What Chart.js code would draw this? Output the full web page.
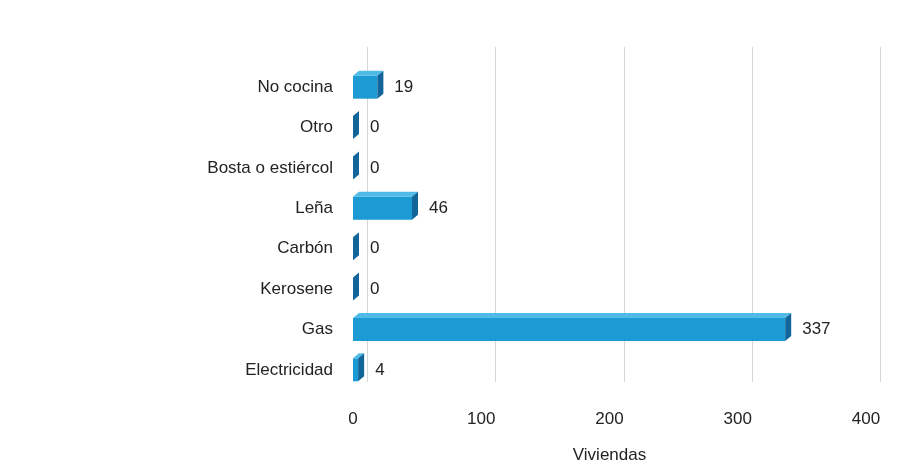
<!DOCTYPE html>
<html>
<head>
<meta charset="utf-8">
<script src="https://cdn.jsdelivr.net/npm/chart.js@4/dist/chart.umd.min.js"></script>
<style>
  html, body { margin: 0; padding: 0; background: #ffffff; }
  #wrap { width: 916px; height: 468px; }
</style>
</head>
<body>
<div id="wrap"><canvas id="c" width="916" height="468"></canvas></div>
<script>
// Combustible utilizado para cocinar
const categories = ['No cocina', 'Otro', 'Bosta o estiércol', 'Leña', 'Carbón', 'Kerosene', 'Gas', 'Electricidad'];
const viviendas = [19, 0, 0, 46, 0, 0, 337, 4];
const xTicks = [0, 100, 200, 300, 400];
const axisTitle = 'Viviendas';

const FONT = "'Liberation Sans', Arial, sans-serif";
const TEXT = '#222222';
const FRONT = '#1b9ad3';
const TOP = '#4fbbe6';
const SIDE = '#11659a';
const DEPTH_X = 6, DEPTH_Y = 5;

// Back-wall gridlines, drawn a little behind and above the bars
const wallGrid = {
  id: 'wallGrid',
  beforeDatasetsDraw(chart) {
    const { ctx, chartArea, scales: { x } } = chart;
    ctx.save();
    ctx.strokeStyle = '#d6d6d6';
    ctx.lineWidth = 1;
    xTicks.forEach(v => {
      const px = Math.round(x.getPixelForValue(v) + 14) + 0.5;
      ctx.beginPath();
      ctx.moveTo(px, chartArea.top - 20);
      ctx.lineTo(px, chartArea.bottom - 8);
      ctx.stroke();
    });
    ctx.restore();
  }
};

// Top and side faces that give each bar its depth, plus value labels
const bars3d = {
  id: 'bars3d',
  afterDatasetsDraw(chart) {
    const { ctx } = chart;
    const meta = chart.getDatasetMeta(0);
    ctx.save();
    meta.data.forEach((bar, i) => {
      const left = Math.min(bar.base, bar.x);
      const right = Math.max(bar.base, bar.x);
      const top = bar.y - bar.height / 2;
      const bottom = bar.y + bar.height / 2;
      // top face
      if (right - left > 0.5) {
        ctx.fillStyle = TOP;
        ctx.beginPath();
        ctx.moveTo(left, top);
        ctx.lineTo(left + DEPTH_X, top - DEPTH_Y);
        ctx.lineTo(right + DEPTH_X, top - DEPTH_Y);
        ctx.lineTo(right, top);
        ctx.closePath();
        ctx.fill();
      }
      // side face
      ctx.fillStyle = SIDE;
      ctx.beginPath();
      ctx.moveTo(right, top);
      ctx.lineTo(right + DEPTH_X, top - DEPTH_Y);
      ctx.lineTo(right + DEPTH_X, bottom - DEPTH_Y);
      ctx.lineTo(right, bottom);
      ctx.closePath();
      ctx.fill();
      // value label
      ctx.fillStyle = TEXT;
      ctx.font = '17px ' + FONT;
      ctx.textAlign = 'left';
      ctx.textBaseline = 'middle';
      ctx.fillText(String(viviendas[i]), right + DEPTH_X + 11, bar.y);
    });
    ctx.restore();
  }
};

new Chart(document.getElementById('c'), {
  type: 'bar',
  data: {
    labels: categories,
    datasets: [{
      data: viviendas,
      backgroundColor: FRONT,
      borderWidth: 0,
      categoryPercentage: 1,
      barPercentage: 0.57
    }]
  },
  options: {
    indexAxis: 'y',
    responsive: false,
    devicePixelRatio: 1,
    animation: false,
    layout: { padding: { top: 67, right: 50, left: 0, bottom: 0 } },
    plugins: { legend: { display: false }, tooltip: { enabled: false } },
    scales: {
      x: {
        min: 0, max: 400,
        afterBuildTicks(scale) { scale.ticks = xTicks.map(v => ({ value: v })); },
        afterFit(scale) { scale.height = 78; },
        grid: { display: false, drawTicks: false },
        border: { display: false },
        ticks: { padding: 19, color: TEXT, font: { family: FONT, size: 17 } },
        title: {
          display: true, text: axisTitle, color: TEXT,
          font: { family: FONT, size: 17 },
          padding: { top: 0, bottom: 2 }
        }
      },
      y: {
        afterFit(scale) { scale.width = 353; },
        grid: { display: false, drawTicks: false },
        border: { display: false },
        ticks: { padding: 20, color: TEXT, font: { family: FONT, size: 17 } }
      }
    }
  },
  plugins: [wallGrid, bars3d]
});
</script>
</body>
</html>
